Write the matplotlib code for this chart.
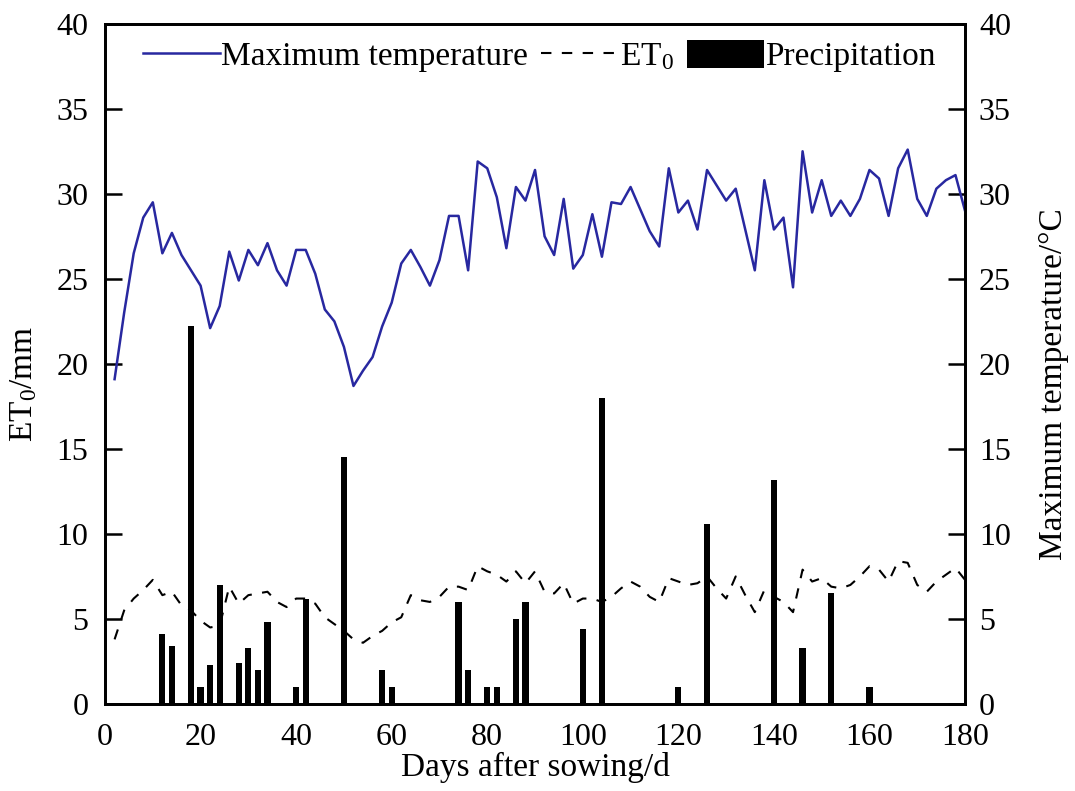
import matplotlib
matplotlib.use('Agg')
import matplotlib.pyplot as plt

plt.rcParams['font.family'] = ['Liberation Serif', 'DejaVu Serif']
plt.rcParams['mathtext.default'] = 'regular'

# days after sowing (every 2 days)
days = list(range(2, 181, 2))

max_temp = [19.1, 23.0, 26.5, 28.6, 29.5, 26.5, 27.7, 26.4, 25.5, 24.6,
            22.1, 23.4, 26.6, 24.9, 26.7, 25.8, 27.1, 25.5, 24.6, 26.7,
            26.7, 25.3, 23.2, 22.5, 21.0, 18.7, 19.6, 20.4, 22.2, 23.6,
            25.9, 26.7, 25.7, 24.6, 26.1, 28.7, 28.7, 25.5, 31.9, 31.5,
            29.8, 26.8, 30.4, 29.6, 31.4, 27.5, 26.4, 29.7, 25.6, 26.4,
            28.8, 26.3, 29.5, 29.4, 30.4, 29.1, 27.8, 26.9, 31.5, 28.9,
            29.6, 27.9, 31.4, 30.5, 29.6, 30.3, 27.9, 25.5, 30.8, 27.9,
            28.6, 24.5, 32.5, 28.9, 30.8, 28.7, 29.6, 28.7, 29.7, 31.4,
            30.9, 28.7, 31.5, 32.6, 29.7, 28.7, 30.3, 30.8, 31.1, 29.0]

et0 = [3.8, 5.5, 6.2, 6.7, 7.3, 6.4, 6.6, 5.8, 5.5, 4.9,
       4.5, 4.6, 6.9, 5.9, 6.4, 6.5, 6.6, 6.0, 5.7, 6.2,
       6.2, 5.9, 5.1, 4.7, 4.3, 3.8, 3.6, 4.0, 4.3, 4.8,
       5.1, 6.4, 6.1, 6.0, 6.3, 6.9, 6.9, 6.7, 8.1, 7.8,
       7.6, 7.2, 7.8, 7.1, 7.8, 6.6, 6.5, 7.1, 5.9, 6.2,
       6.2, 6.0, 6.3, 6.8, 7.2, 6.9, 6.3, 6.0, 7.4, 7.2,
       7.0, 7.1, 7.5, 6.8, 6.2, 7.5, 6.4, 5.4, 6.7, 6.3,
       6.0, 5.4, 7.9, 7.2, 7.4, 6.9, 6.8, 7.0, 7.5, 8.1,
       7.9, 7.2, 8.4, 8.3, 7.0, 6.6, 7.2, 7.6, 8.0, 7.3]

rain_days = [12, 14, 18, 20, 22, 24, 28, 30, 32, 34, 40, 42, 50, 58, 60,
             74, 76, 80, 82, 86, 88, 100, 104, 120, 126, 140, 146, 152, 160]
rain = [4.1, 3.4, 22.2, 1.0, 2.3, 7.0, 2.4, 3.3, 2.0, 4.8, 1.0, 6.2, 14.5, 2.0, 1.0,
        6.0, 2.0, 1.0, 1.0, 5.0, 6.0, 4.4, 18.0, 1.0, 10.6, 13.2, 3.3, 6.5, 1.0]

fig = plt.figure(figsize=(10.75, 7.91), dpi=100)
ax = fig.add_axes([0.0977, 0.110, 0.800, 0.860])
ax2 = ax.twinx()

b = ax.bar(rain_days, rain, width=1.3, color='black', label='Precipitation', zorder=2)
e, = ax.plot(days, et0, '--', color='black', lw=1.5, dashes=(5, 5), label='ET$_0$', zorder=3)
t, = ax2.plot(days, max_temp, '-', color='#2828a0', lw=1.8, label='Maximum temperature')

ax.set_xlim(0, 180)
ax.set_ylim(0, 40)
ax2.set_ylim(0, 40)
ax.set_xticks(range(0, 181, 20))
ax.set_yticks(range(0, 41, 5))
ax2.set_yticks(range(0, 41, 5))

ax.tick_params(axis='both', direction='in', labelsize=23, length=12, width=1.8, pad=12)
ax.tick_params(axis='x', length=0, pad=14)
ax2.tick_params(axis='y', direction='in', labelsize=23, length=12, width=1.8, pad=10)

for a in (ax, ax2):
    for s in a.spines.values():
        s.set_linewidth(2)

ax.set_xlabel('Days after sowing/d', fontsize=24, labelpad=0)
ax.set_ylabel('ET$_0$/mm', fontsize=24)
ax2.set_ylabel('Maximum temperature/°C', fontsize=24)
ax.yaxis.set_label_coords(-0.076, 0.47)
ax2.yaxis.set_label_coords(1.086, 0.47)

leg = ax.legend([t, e, b], ['Maximum temperature', 'ET$_0$', 'Precipitation'],
                loc='upper center', bbox_to_anchor=(0.505, 1.02), ncol=3, frameon=False,
                fontsize=24, handlelength=2.3, handleheight=0.9, handletextpad=0.05,
                columnspacing=0.4)

plt.savefig('out.png', dpi=100)
